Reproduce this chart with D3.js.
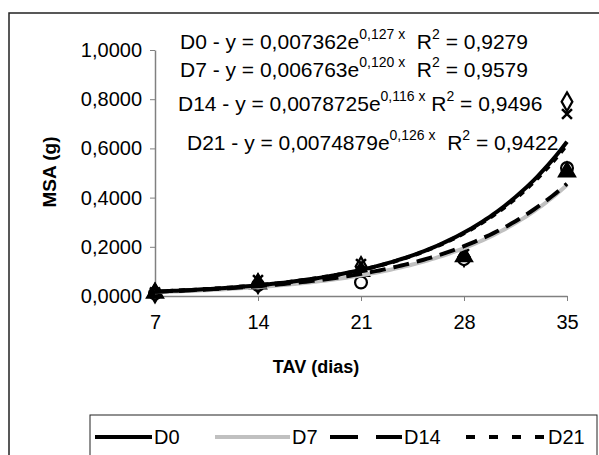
<!DOCTYPE html>
<html>
<head>
<meta charset="utf-8">
<script src="https://cdn.jsdelivr.net/npm/d3@7"></script>
<style>
  body { margin: 0; background: #fff; }
  svg { display: block; font-family: "Liberation Sans", Arial, sans-serif; }
</style>
</head>
<body>
<div id="chart"></div>
<script>
const days = [7, 14, 21, 28, 35];
const seriesNames = ["D0", "D7", "D14", "D21"];
const d0Values = [0.012, 0.050, 0.120, 0.160, 0.790];
const d7Values = [0.010, 0.045, 0.055, 0.150, 0.520];
const d14Values = [0.012, 0.050, 0.100, 0.160, 0.505];
const d21Values = [0.015, 0.065, 0.130, 0.170, 0.740];
// exponential trendline coefficients y = a * e^(b x), as printed on the chart
const trendA = [0.007362, 0.006763, 0.0078725, 0.0074879];
const trendB = [0.127, 0.120, 0.116, 0.126];
const trendLabelA = ["0,007362", "0,006763", "0,0078725", "0,0074879"];
const trendLabelB = ["0,127", "0,120", "0,116", "0,126"];
const r2Labels = ["0,9279", "0,9579", "0,9496", "0,9422"];
const yTicks = [0, 0.2, 0.4, 0.6, 0.8, 1.0];

const W = 599, H = 455;
const svg = d3.select("#chart").append("svg").attr("width", W).attr("height", H);

// outer frame
svg.append("rect").attr("x", 9).attr("y", 13).attr("width", 600).attr("height", 460)
   .attr("fill", "none").attr("stroke", "#222").attr("stroke-width", 1.5);

const x = d3.scaleLinear().domain([7, 35]).range([155, 567]);
const y = d3.scaleLinear().domain([0, 1]).range([296, 50]);

const fmt = d => d3.format(".4f")(d).replace(".", ",");

const yAxis = svg.append("g").attr("transform", "translate(155,0)")
   .call(d3.axisLeft(y).tickValues(yTicks).tickFormat(fmt).tickSize(5).tickSizeOuter(0).tickPadding(8));
const xAxis = svg.append("g").attr("transform", "translate(0,296)")
   .call(d3.axisBottom(x).tickValues(days).tickSize(5).tickSizeOuter(0).tickPadding(14));
[yAxis, xAxis].forEach(g => {
  g.select(".domain").attr("stroke", "#808080").attr("stroke-width", 1.5);
  g.selectAll(".tick line").attr("stroke", "#808080").attr("stroke-width", 1);
  g.selectAll(".tick text").attr("fill", "#000").style("font-size", "20px")
   .style("font-family", "'Liberation Sans', Arial, sans-serif");
});

svg.append("text").attr("x", 316).attr("y", 373).attr("text-anchor", "middle")
   .style("font-size", "18px").style("font-weight", "bold").text("TAV (dias)");
svg.append("text").attr("transform", "translate(56,172) rotate(-90)").attr("text-anchor", "middle")
   .style("font-size", "19px").style("font-weight", "bold").text("MSA (g)");

const allValues = [d0Values, d7Values, d14Values, d21Values];
const markers = [d3.symbolDiamond, d3.symbolCircle, d3.symbolTriangle, d3.symbolCross];

// data markers
allValues.forEach((vals, i) => {
  const g = svg.append("g");
  vals.forEach((v, j) => {
    const cx = x(days[j]), cy = y(v);
    if (i === 3) {
      g.append("path").attr("transform", `translate(${cx},${cy}) rotate(45)`)
       .attr("d", "M-7,0H7M0,-7V7").attr("stroke", "#000").attr("stroke-width", 2.5);
    } else {
      g.append("path").attr("transform", `translate(${cx},${cy})`)
       .attr("d", d3.symbol().type(markers[i]).size(i === 0 ? 100 : 110)())
       .attr("fill", i === 2 ? "#000" : "#fff")
       .attr("stroke", "#000").attr("stroke-width", 2.2);
    }
  });
});

// trendlines
const lineStyles = [
  { color: "#000", dash: null },
  { color: "#c0c0c0", dash: null },
  { color: "#000", dash: "16,8" },
  { color: "#000", dash: "6,6" }
];
const curveX = d3.range(7, 35.01, 0.25);
const trendLine = d3.line().x(d => x(d[0])).y(d => y(d[1]));
[1, 2, 3, 0].forEach(i => {
  svg.append("path")
     .datum(curveX.map(t => [t, trendA[i] * Math.exp(trendB[i] * t)]))
     .attr("d", trendLine)
     .attr("fill", "none")
     .attr("stroke", lineStyles[i].color)
     .attr("stroke-width", 4)
     .attr("stroke-dasharray", lineStyles[i].dash);
});

// equation labels
const eqPos = [[180, 49], [180, 77], [178, 111], [187, 150]];
const eqGap = ["\u00a0\u00a0", "\u00a0\u00a0", "\u00a0", "\u00a0\u00a0"];
seriesNames.forEach((name, i) => {
  const t = svg.append("text").attr("x", eqPos[i][0]).attr("y", eqPos[i][1]).style("font-size", "21px");
  t.append("tspan").text(`${name} - y = ${trendLabelA[i]}e`);
  t.append("tspan").attr("dy", -10).style("font-size", "14px").text(`${trendLabelB[i]} x`);
  t.append("tspan").attr("dy", 10).text(eqGap[i] + "R");
  t.append("tspan").attr("dy", -10).style("font-size", "14px").text("2");
  t.append("tspan").attr("dy", 10).text(` = ${r2Labels[i]}`);
});

// legend
svg.append("rect").attr("x", 90).attr("y", 415).attr("width", 507).attr("height", 60)
   .attr("fill", "#fff").attr("stroke", "#222").attr("stroke-width", 1);
const legendX = [95, 215, 330, 466];
const legendLen = [57, 75, 72, 80];
seriesNames.forEach((name, i) => {
  const g = svg.append("g").attr("transform", `translate(${legendX[i]},437)`);
  g.append("line").attr("x1", 0).attr("x2", legendLen[i]).attr("y1", 0).attr("y2", 0)
   .attr("stroke", lineStyles[i].color).attr("stroke-width", 4)
   .attr("stroke-dasharray", i === 2 ? "28,18" : (i === 3 ? "9,14" : null));
  g.append("text").attr("x", legendLen[i] + 2).attr("y", 7).style("font-size", "20px").text(name);
});
</script>
</body>
</html>
